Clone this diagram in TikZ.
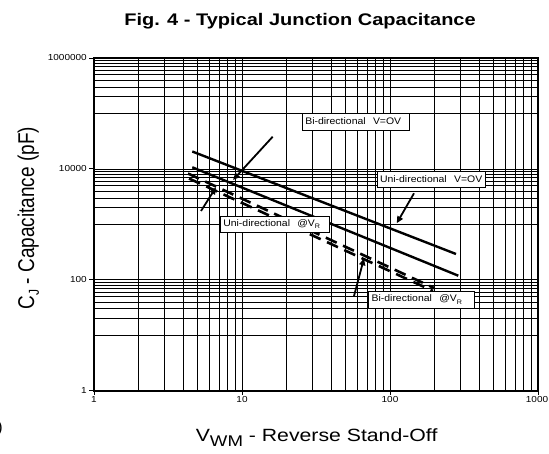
\documentclass[tikz,border=0pt]{standalone}
\usepackage{graphicx}
\usepackage{fontspec}
\setmainfont{Liberation Sans}
\usetikzlibrary{arrows.meta}
\newcommand{\ttlfont}[1]{{\fontsize{16.8bp}{20bp}\selectfont\bfseries\scalebox{1.19}[1]{#1}}}
\newcommand{\xlblfont}[1]{{\fontsize{17.7bp}{20bp}\selectfont\scalebox{1.2}[1]{#1}}}
\newcommand{\ylblfont}[1]{{\fontsize{19bp}{22bp}\selectfont\scalebox{1}[1.2]{#1}}}
\newcommand{\tckfont}[1]{{\fontsize{8.7bp}{10bp}\selectfont\scalebox{1.15}[1]{#1}}}
\newcommand{\bxfont}[1]{{\fontsize{9.5bp}{11bp}\selectfont\scalebox{1.1}[1]{#1}}}
\newcommand{\smsub}[1]{\raisebox{-2.5bp}{\fontsize{6.5bp}{7bp}\selectfont #1}}
\begin{document}
\begin{tikzpicture}[x=1bp,y=-1bp,
  gridline/.style={line width=0.7bp, black},
  plotframe/.style={line width=1.6bp, black},
  tickmark/.style={line width=0.8bp, black},
  datacurve/.style={line width=2.4bp, black},
  datadash/.style={line width=2.6bp, black, dash pattern=on 12bp off 7bp},
  pointer/.style={line width=1.8bp, black, -{Triangle[length=7bp,width=6bp]}},
  lbl/.style={draw, fill=white, line width=0.6bp, inner xsep=3bp, inner ysep=0bp,
    minimum height=17bp, align=left, anchor=north west},
  ticklbl/.style={inner sep=0bp}
]
\useasboundingbox (0,0) rectangle (549,454);

% grid
\foreach \k in {0,1,2}{
  \foreach \n in {1,...,9}{
    \pgfmathsetmacro\xx{94+148*(\k+log10(\n))}
    \draw[gridline] (\xx,58) -- (\xx,390.7);
    \pgfmathsetmacro\yy{390.7-55.45*(2*\k+1+log10(\n))}
    \draw[gridline] (94,\yy) -- (538,\yy);
  }
}
\foreach \k in {0,1,2,3}{
  \pgfmathsetmacro\yy{390.7-110.9*\k}
  \draw[gridline] (94,\yy) -- (538,\yy);
  \draw[tickmark] (89,\yy) -- (94,\yy);
  \pgfmathsetmacro\xx{94+148*\k}
  \draw[tickmark] (\xx,390.7) -- (\xx,395);
}
\draw[plotframe] (94,58) rectangle (538,390.7);

% tick labels
\node[ticklbl, anchor=east] (y6) at (87,58) {\tckfont{1000000}};
\node[ticklbl, anchor=east] (y4) at (87,168.9) {\tckfont{10000}};
\node[ticklbl, anchor=east] (y2) at (87,279.8) {\tckfont{100}};
\node[ticklbl, anchor=east] (y0) at (87,390.7) {\tckfont{1}};
\node[ticklbl, anchor=north] (x0) at (94,396) {\tckfont{1}};
\node[ticklbl, anchor=north] (x1) at (242,396) {\tckfont{10}};
\node[ticklbl, anchor=north] (x2) at (390,396) {\tckfont{100}};
\node[ticklbl, anchor=north] (x3) at (537,396) {\tckfont{1000}};

% titles
\node[anchor=base, inner sep=0bp] (title) at (300,26) {\ttlfont{Fig. 4 - Typical Junction Capacitance}};
\node[anchor=base, inner sep=0bp] (xlabel) at (316.6,441.7) {\xlblfont{V\raisebox{-5bp}{\fontsize{15.5bp}{17bp}\selectfont WM} - Reverse Stand-Off}};
\node[anchor=base, inner sep=0bp, rotate=90] (ylabel) at (34,218) {\ylblfont{C\raisebox{-4bp}{\fontsize{12bp}{14bp}\selectfont J} - Capacitance (pF)}};
\node[anchor=east, inner sep=0bp] (stray) at (3,428) {\fontsize{16bp}{18bp}\selectfont )};

% data curves
\coordinate (bv0a) at (192.3,151.5); \coordinate (bv0b) at (456,254);
\coordinate (uv0a) at (192.3,167.3); \coordinate (uv0b) at (458.3,275.7);
\coordinate (uvra) at (188,173.5);   \coordinate (uvrb) at (434,288);
\coordinate (bvra) at (189,178.5);   \coordinate (bvrb) at (433,291);
\draw[datacurve] (bv0a) -- (bv0b);
\draw[datacurve] (uv0a) -- (uv0b);
\draw[datadash] (uvra) -- (uvrb);
\draw[datadash] (bvra) -- (bvrb);

% labels
\node[lbl, text width=101bp] (lb1) at (302,112.7) {\bxfont{Bi-directional\ \ V=OV}};
\node[lbl, text width=102bp, minimum height=16bp] (lb2) at (376.7,171) {\bxfont{Uni-directional\ \ V=OV}};
\node[lbl, text width=103bp, minimum height=16.3bp] (lb3) at (220,215.7) {\bxfont{Uni-directional\ \ @V\smsub{R}}};
\node[lbl, text width=100bp] (lb4) at (368.3,291) {\bxfont{Bi-directional\ \ @V\smsub{R}}};

% pointers
\coordinate (p1s) at (272.7,136.7); \coordinate (p1e) at (233,180);
\coordinate (p2s) at (414,193.3);   \coordinate (p2e) at (396.7,223.3);
\coordinate (p3s) at (201,211);     \coordinate (p3e) at (216,187.3);
\coordinate (p4s) at (354,296);     \coordinate (p4e) at (364,258.3);
\draw[pointer] (p1s) -- (p1e);
\draw[pointer] (p2s) -- (p2e);
\draw[pointer] (p3s) -- (p3e);
\draw[pointer] (p4s) -- (p4e);
\end{tikzpicture}
\end{document}
